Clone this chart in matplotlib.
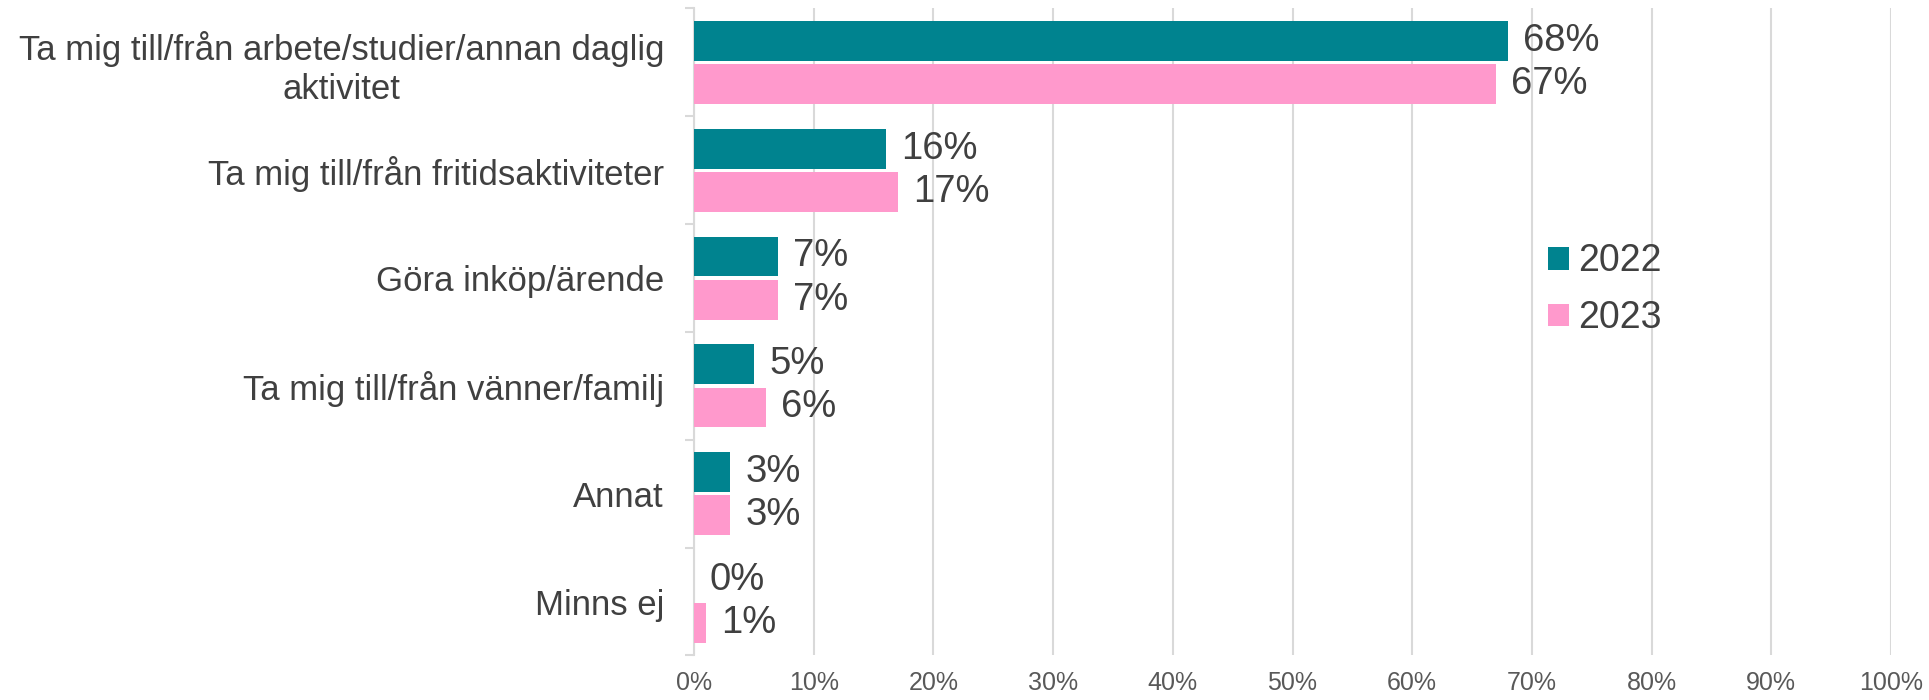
import matplotlib.pyplot as plt
import numpy as np
from matplotlib.ticker import FixedLocator, PercentFormatter

# Data
categories = [
    'Ta mig till/från arbete/studier/annan daglig\naktivitet',
    'Ta mig till/från fritidsaktiviteter',
    'Göra inköp/ärende',
    'Ta mig till/från vänner/familj',
    'Annat',
    'Minns ej',
]
years = ['2022', '2023']
v2022 = [68, 16, 7, 5, 3, 0]
v2023 = [67, 17, 7, 6, 3, 1]

teal = '#00838F'
pink = '#FF99CC'
grid_col = '#D9D9D9'
text_col = '#404040'

plt.rcParams['font.family'] = ['Liberation Sans', 'DejaVu Sans']

fig = plt.figure(figsize=(19.29, 7), dpi=100)
ax = fig.add_axes([0.3598, 0.0636, 0.6205, 0.9243])

y = np.arange(len(categories))
h = 0.37
off = 0.2
b1 = ax.barh(y - off, v2022, height=h, color=teal, label=years[0], zorder=3)
b2 = ax.barh(y + off, v2023, height=h, color=pink, label=years[1], zorder=3)

# value labels next to each bar
for bars, vals in ((b1, v2022), (b2, v2023)):
    for rect, v in zip(bars, vals):
        ax.annotate(f'{v}%', (v, rect.get_y() + rect.get_height() / 2),
                    xytext=(11, 0), textcoords='offset points',
                    va='center', ha='left', fontsize=27.5, color=text_col)

ax.set_xlim(0, 100)
ax.set_ylim(len(categories) - 0.5, -0.5)
ax.set_xticks(np.arange(0, 101, 10))
ax.xaxis.set_major_formatter(PercentFormatter(decimals=0))
ax.tick_params(axis='x', length=0, pad=11, labelsize=18, labelcolor='#595959')
ax.grid(axis='x', color=grid_col, linewidth=1.5, zorder=0)

ax.set_yticks(y)
ax.set_yticklabels(categories)
for lab in ax.get_yticklabels():
    lab.set_multialignment('center')
    lab.set_linespacing(1.2)
ax.tick_params(axis='y', which='major', length=0, pad=21.6, labelsize=25,
               labelcolor=text_col)
ax.yaxis.set_minor_locator(FixedLocator(np.arange(-0.5, len(categories), 1)))
ax.tick_params(axis='y', which='minor', length=6.5, width=1.5, color=grid_col)

for side in ('top', 'right', 'bottom'):
    ax.spines[side].set_visible(False)
ax.spines['left'].set_color(grid_col)
ax.spines['left'].set_linewidth(1.5)

fig.legend(loc='center left', bbox_to_anchor=(0.785, 0.586), frameon=False,
           fontsize=27, handlelength=0.55, handleheight=0.55,
           handletextpad=0.25, labelspacing=0.55, labelcolor=text_col)

plt.savefig('out.png', dpi=100)
